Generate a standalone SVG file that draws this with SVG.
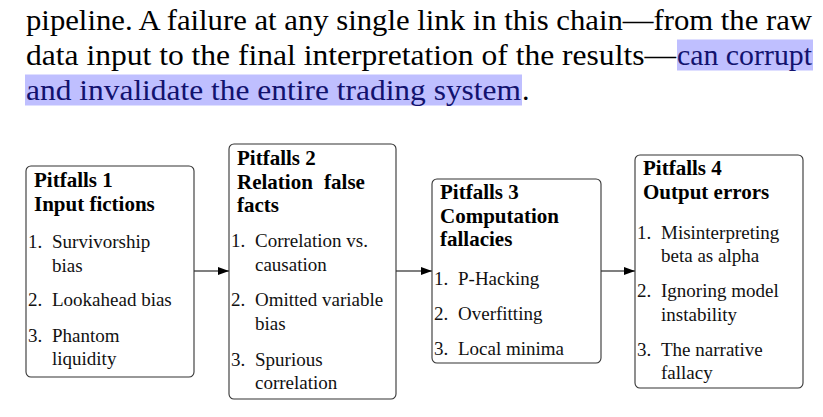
<svg xmlns="http://www.w3.org/2000/svg" width="823" height="417" viewBox="0 0 823 417">
<style>
.hl{fill:#bfbfff}
.box{fill:#fff;stroke:#333;stroke-width:1.1}
.t{font-family:"Liberation Serif","Times New Roman",serif;font-size:21px;font-weight:bold;fill:#000}
.i{font-family:"Liberation Serif","Times New Roman",serif;font-size:19px;fill:#111}
.conn{stroke:#000;stroke-width:1.2;fill:none}
</style>
<defs>
<marker id="ah" markerWidth="12" markerHeight="10" refX="11" refY="4" orient="auto" markerUnits="userSpaceOnUse">
<path d="M0,0 L11,4 L0,8 Z" fill="#000"/>
</marker>
</defs>
<g id="paragraph">
<rect class="hl" x="677" y="39.5" width="136" height="31"/>
<rect class="hl" x="25" y="74.5" width="497" height="31"/>
<text x="26" y="29.5" font-family="Liberation Serif" font-size="30" fill="#000" textLength="786" lengthAdjust="spacingAndGlyphs">pipeline. A failure at any single link in this chain—from the raw</text>
<text x="26" y="64.5" font-family="Liberation Serif" font-size="30" fill="#000" textLength="650" lengthAdjust="spacingAndGlyphs">data input to the final interpretation of the results—</text>
<text x="677" y="64.5" font-family="Liberation Serif" font-size="30" fill="#12126e" textLength="135" lengthAdjust="spacingAndGlyphs">can corrupt</text>
<text x="26" y="99.5" font-family="Liberation Serif" font-size="30" fill="#12126e" textLength="495" lengthAdjust="spacingAndGlyphs">and invalidate the entire trading system</text>
<text x="522" y="99.5" font-family="Liberation Serif" font-size="30" fill="#000">.</text>
</g>
<g id="connectors">
<line class="conn" x1="194" y1="271" x2="229" y2="271" marker-end="url(#ah)"/>
<line class="conn" x1="396" y1="271" x2="432" y2="271" marker-end="url(#ah)"/>
<line class="conn" x1="601" y1="271" x2="635" y2="271" marker-end="url(#ah)"/>
</g>
<g id="node1">
<rect class="box" x="26" y="166" width="168" height="211" rx="5"/>
<text class="t" x="34" y="187">Pitfalls 1</text>
<text class="t" x="34" y="210.5">Input fictions</text>
<text class="i" x="28" y="248">1.</text><text class="i" x="52" y="248">Survivorship</text>
<text class="i" x="52" y="271.5">bias</text>
<text class="i" x="28" y="306">2.</text><text class="i" x="52" y="306">Lookahead bias</text>
<text class="i" x="28" y="342">3.</text><text class="i" x="52" y="342">Phantom</text>
<text class="i" x="52" y="365">liquidity</text>
</g>
<g id="node2">
<rect class="box" x="229" y="144" width="167" height="255" rx="5"/>
<text class="t" x="237" y="165">Pitfalls 2</text>
<text class="t" x="237" y="188.5" word-spacing="6">Relation false</text>
<text class="t" x="237" y="212">facts</text>
<text class="i" x="231" y="247">1.</text><text class="i" x="255" y="247">Correlation vs.</text>
<text class="i" x="255" y="270.5">causation</text>
<text class="i" x="231" y="306">2.</text><text class="i" x="255" y="306">Omitted variable</text>
<text class="i" x="255" y="329.5">bias</text>
<text class="i" x="231" y="365.5">3.</text><text class="i" x="255" y="365.5">Spurious</text>
<text class="i" x="255" y="389">correlation</text>
</g>
<g id="node3">
<rect class="box" x="432" y="179" width="169" height="184" rx="5"/>
<text class="t" x="440" y="199">Pitfalls 3</text>
<text class="t" x="440" y="222.5">Computation</text>
<text class="t" x="440" y="246">fallacies</text>
<text class="i" x="434" y="285">1.</text><text class="i" x="458" y="285">P-Hacking</text>
<text class="i" x="434" y="320">2.</text><text class="i" x="458" y="320">Overfitting</text>
<text class="i" x="434" y="355">3.</text><text class="i" x="458" y="355">Local minima</text>
</g>
<g id="node4">
<rect class="box" x="635" y="155" width="168" height="233" rx="5"/>
<text class="t" x="643" y="175">Pitfalls 4</text>
<text class="t" x="643" y="198.5">Output errors</text>
<text class="i" x="637" y="238.5">1.</text><text class="i" x="661" y="238.5">Misinterpreting</text>
<text class="i" x="661" y="262">beta as alpha</text>
<text class="i" x="637" y="297">2.</text><text class="i" x="661" y="297">Ignoring model</text>
<text class="i" x="661" y="320.5">instability</text>
<text class="i" x="637" y="355.5">3.</text><text class="i" x="661" y="355.5">The narrative</text>
<text class="i" x="661" y="379">fallacy</text>
</g>
</svg>
